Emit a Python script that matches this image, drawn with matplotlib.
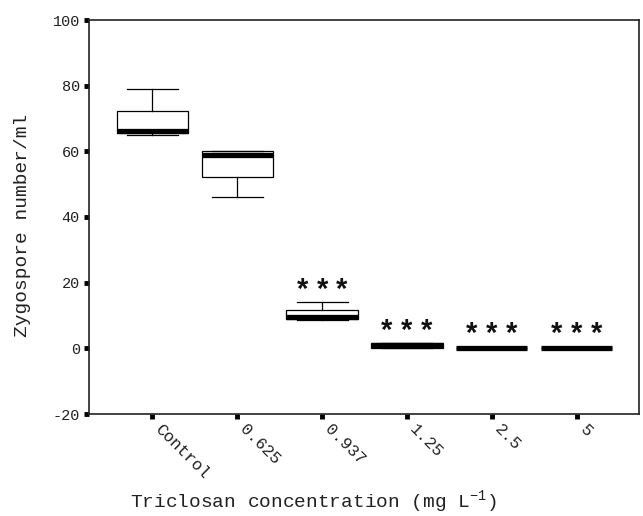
import matplotlib
matplotlib.use("Agg")
import matplotlib.pyplot as plt
from matplotlib.transforms import ScaledTranslation

plt.rcParams['font.family'] = ['Liberation Mono', 'DejaVu Sans']
plt.rcParams['mathtext.fontset'] = 'custom'
plt.rcParams['mathtext.rm'] = 'Liberation Mono'
plt.rcParams['mathtext.default'] = 'regular'

categories = ["Control", "0.625", "0.937", "1.25", "2.5", "5"]
whisker_low = [65.0, 46.0, 8.5, 0.0, 0.0, 0.0]
q1 = [65.5, 52.3, 8.8, 0.2, 0.0, 0.0]
median = [66.2, 59.0, 9.5, 1.0, 0.0, 0.0]
q3 = [72.4, 60.0, 11.7, 1.6, 0.0, 0.0]
whisker_high = [79.0, 60.0, 14.0, 1.6, 0.0, 0.0]
significant = [False, False, True, True, True, True]
y_ticks = [-20, 0, 20, 40, 60, 80, 100]

fig = plt.figure(figsize=(6.43, 5.16), dpi=100)
ax = fig.add_axes([89/643, 1-414/516, (639-89)/643, (414-20)/516])

stats = []
for i, c in enumerate(categories):
    stats.append(dict(label=c, whislo=whisker_low[i], q1=q1[i], med=median[i],
                      q3=q3[i], whishi=whisker_high[i], fliers=[]))
pos = list(range(1, len(categories) + 1))
ax.bxp(stats, positions=pos, widths=0.84, showfliers=False, patch_artist=True,
       boxprops=dict(facecolor='white', edgecolor='black', linewidth=0.9),
       medianprops=dict(color='black', linewidth=3.8, solid_capstyle='butt'),
       whiskerprops=dict(color='black', linewidth=0.9),
       capprops=dict(color='black', linewidth=0.9),
       capwidths=0.6)

for i, s in enumerate(significant):
    if s:
        level = max(whisker_high[i], 0.5) + 3.8
        for dx in (-0.235, 0.0, 0.235):
            ax.text(pos[i] + dx, level, "*", ha='center', va='center',
                    fontsize=21, fontweight='bold', family='Liberation Sans',
                    color='#111111')

ax.set_xlim(0.254, 6.734)
ax.set_ylim(-20, 100)
ax.set_yticks(y_ticks)
ax.set_yticklabels([str(v) for v in y_ticks], fontsize=11, color='#222222')
ax.set_xticks(pos)
ax.set_xticklabels([])
lab_tr = ax.get_xaxis_transform() + ScaledTranslation(5/100, -13/100, fig.dpi_scale_trans)
for p, c in zip(pos, categories):
    ax.text(p, 0, c, transform=lab_tr, rotation=-45, ha='left', va='center',
            rotation_mode='anchor', fontsize=12, color='#222222', clip_on=False)
ax.tick_params(axis='both', direction='out', length=3.5, width=3.5, color='black')
ax.tick_params(axis='y', pad=3)
for sp in ax.spines.values():
    sp.set_linewidth(1.2)
    sp.set_color('#222222')

fig.text(313.5/643, 1-502/516, "Triclosan concentration (mg L$^{-1}$)",
         ha='center', va='center', fontsize=14, color='#222222')
fig.text(23/643, 1-225/516, "Zygospore number/ml", rotation=90,
         ha='center', va='center', fontsize=14, color='#222222')

fig.savefig("out.png", dpi=100)
